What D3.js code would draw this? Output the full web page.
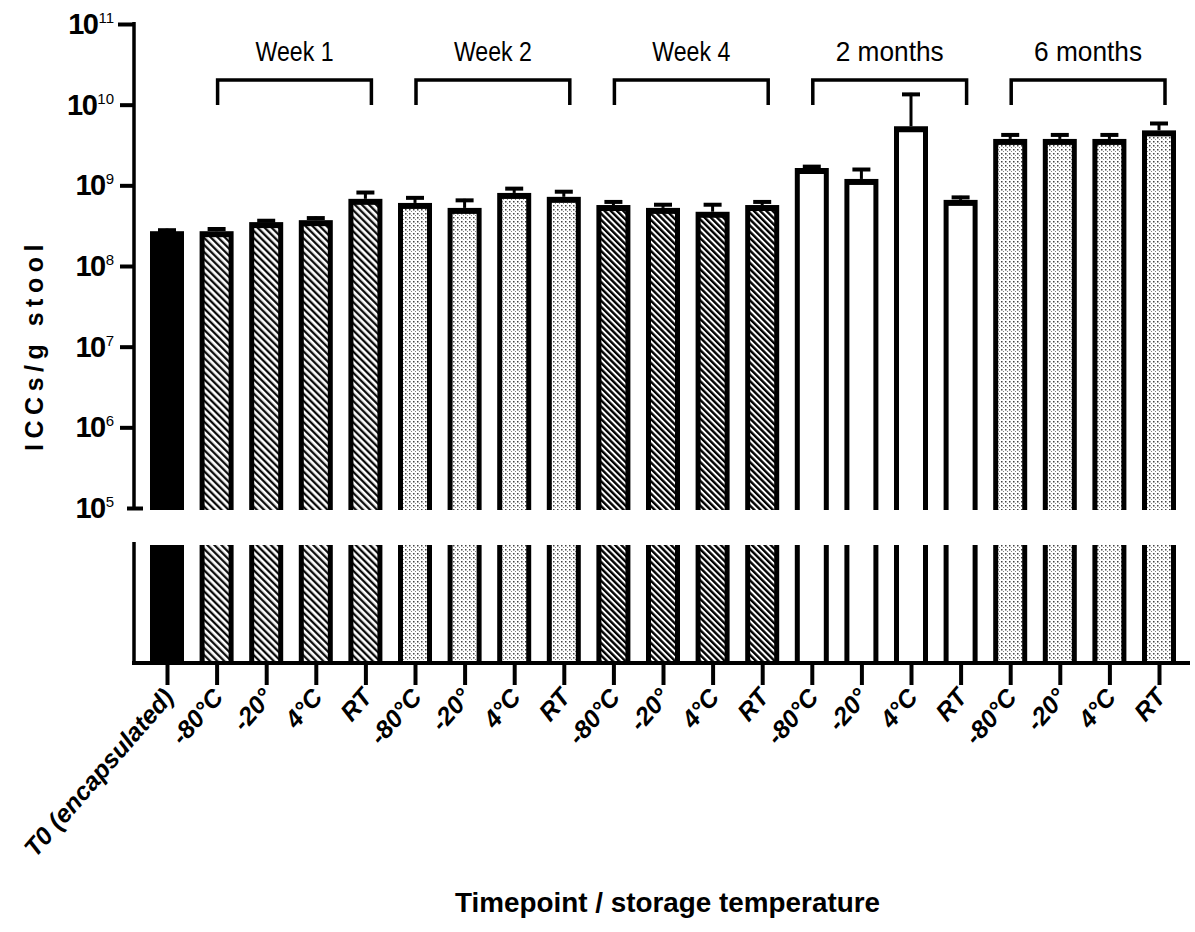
<!DOCTYPE html>
<html>
<head>
<meta charset="utf-8">
<script src="https://cdn.jsdelivr.net/npm/d3@7/dist/d3.min.js"></script>
<style>
  html, body { margin: 0; padding: 0; background: #fff; }
  svg { display: block; }
  text { font-family: "Liberation Sans", Arial, sans-serif; fill: #000; }
</style>
</head>
<body>
<svg id="chart" width="1195" height="932"></svg>
<script>
// ---------- data ----------
const categories = ["T0 (encapsulated)",
  "-80°C", "-20°", "4°C", "RT",
  "-80°C", "-20°", "4°C", "RT",
  "-80°C", "-20°", "4°C", "RT",
  "-80°C", "-20°", "4°C", "RT",
  "-80°C", "-20°", "4°C", "RT"];
const groupNames = ["Week 1", "Week 2", "Week 4", "2 months", "6 months"];
const groupStart = [1, 5, 9, 13, 17];
const groupEnd = [4, 8, 12, 16, 20];
const values = [2.7e8,
  2.7e8, 3.5e8, 3.7e8, 6.8e8,
  6.05e8, 5.25e8, 8.05e8, 7.2e8,
  5.7e8, 5.25e8, 4.7e8, 5.7e8,
  1.64e9, 1.2e9, 5.4e9, 6.6e8,
  3.76e9, 3.76e9, 3.76e9, 4.8e9];
const errorTop = [2.9e8,
  3.0e8, 3.8e8, 4.1e8, 8.5e8,
  7.3e8, 6.8e8, 9.5e8, 8.7e8,
  6.5e8, 6.0e8, 6.0e8, 6.5e8,
  1.78e9, 1.64e9, 1.4e10, 7.4e8,
  4.4e9, 4.4e9, 4.4e9, 6.1e9];
const fills = ["solid",
  "hatch1", "hatch1", "hatch1", "hatch1",
  "dots", "dots", "dots", "dots",
  "hatch2", "hatch2", "hatch2", "hatch2",
  "white", "white", "white", "white",
  "dots", "dots", "dots", "dots"];
const yTickExps = [5, 6, 7, 8, 9, 10, 11];

// ---------- layout ----------
const svg = d3.select("#chart");
const axisX = 134;
const upperTop = 24, upperBottom = 508;
const lowerTop = 545, lowerBottom = 662;
const barW = 34;

const x = d3.scalePoint().domain(d3.range(categories.length)).range([167, 1159]);
const y = d3.scaleLog().domain([1e5, 1e11]).range([upperBottom, upperTop]);

// ---------- patterns ----------
const defs = svg.append("defs");
const h1 = defs.append("pattern").attr("id", "hatch1").attr("patternUnits", "userSpaceOnUse")
  .attr("width", 5).attr("height", 5).attr("patternTransform", "rotate(-45)");
h1.append("rect").attr("width", 5).attr("height", 5).attr("fill", "#fff");
h1.append("line").attr("x1", 1.2).attr("y1", 0).attr("x2", 1.2).attr("y2", 5)
  .attr("stroke", "#000").attr("stroke-width", 2.2);
const h2 = defs.append("pattern").attr("id", "hatch2").attr("patternUnits", "userSpaceOnUse")
  .attr("width", 4.4).attr("height", 4.4).attr("patternTransform", "rotate(-45)");
h2.append("rect").attr("width", 4.4).attr("height", 4.4).attr("fill", "#fff");
h2.append("line").attr("x1", 1.2).attr("y1", 0).attr("x2", 1.2).attr("y2", 4.4)
  .attr("stroke", "#000").attr("stroke-width", 2.4);
const dp = defs.append("pattern").attr("id", "dots").attr("patternUnits", "userSpaceOnUse")
  .attr("width", 4).attr("height", 4);
dp.append("rect").attr("width", 4).attr("height", 4).attr("fill", "#fff");
dp.append("rect").attr("x", 1).attr("y", 1).attr("width", 1.5).attr("height", 1.5).attr("fill", "#444");
dp.append("rect").attr("x", 3).attr("y", 3).attr("width", 1.2).attr("height", 1.2).attr("fill", "#888");

function fillOf(f) {
  if (f === "solid") return "#000";
  if (f === "white") return "#fff";
  return "url(#" + f + ")";
}

// ---------- bars ----------
const idx = d3.range(categories.length);
const bw = 5, bt = 6;
const gBars = svg.append("g");
idx.forEach(i => {
  const cx = x(i), top = y(values[i]);
  gBars.append("rect").attr("x", cx - barW / 2).attr("y", top).attr("width", barW)
    .attr("height", upperBottom + 2 - top).attr("fill", "#000");
  if (fills[i] !== "solid") {
    gBars.append("rect").attr("x", cx - barW / 2 + bw).attr("y", top + bt)
      .attr("width", barW - 2 * bw).attr("height", upperBottom + 2 - top - bt)
      .attr("fill", fillOf(fills[i]));
  }
  gBars.append("rect").attr("x", cx - barW / 2).attr("y", lowerTop).attr("width", barW)
    .attr("height", lowerBottom - lowerTop).attr("fill", "#000");
  if (fills[i] !== "solid") {
    gBars.append("rect").attr("x", cx - barW / 2 + bw).attr("y", lowerTop)
      .attr("width", barW - 2 * bw).attr("height", lowerBottom - lowerTop)
      .attr("fill", fillOf(fills[i]));
  }
  const et = y(errorTop[i]);
  gBars.append("line").attr("x1", cx).attr("x2", cx).attr("y1", top).attr("y2", et)
    .attr("stroke", "#000").attr("stroke-width", 3);
  gBars.append("line").attr("x1", cx - 9).attr("x2", cx + 9).attr("y1", et + 1.5).attr("y2", et + 1.5)
    .attr("stroke", "#000").attr("stroke-width", 4);
});

// ---------- y axis ----------
const yAxis = d3.axisLeft(y).tickValues(yTickExps.map(e => Math.pow(10, e)))
  .tickSize(14).tickFormat("");
const gy = svg.append("g").attr("transform", `translate(${axisX},0)`).call(yAxis);
gy.select(".domain").remove();
gy.selectAll(".tick line").attr("stroke", "#000").attr("stroke-width", 4);
gy.selectAll(".tick").filter(d => d === 1e5).select("line").attr("x1", 9).attr("x2", -7);
gy.selectAll(".tick").filter(d => d === 1e11).select("line").attr("x2", -16);
svg.append("line").attr("x1", axisX).attr("x2", axisX).attr("y1", upperTop - 2).attr("y2", upperBottom + 2)
  .attr("stroke", "#000").attr("stroke-width", 3.5);
svg.append("line").attr("x1", axisX).attr("x2", axisX).attr("y1", lowerTop - 3).attr("y2", lowerBottom)
  .attr("stroke", "#000").attr("stroke-width", 3.5);

yTickExps.forEach(e => {
  const ty = y(Math.pow(10, e));
  const sup = svg.append("text").attr("x", 114).attr("y", ty - 1)
    .attr("text-anchor", "end")
    .style("font-size", "15px")
    .text(String(e));
  const sw = sup.node().getComputedTextLength();
  svg.append("text").attr("x", 114 - sw - 1).attr("y", ty + 10)
    .attr("text-anchor", "end")
    .style("font-weight", "bold").style("font-size", "29px")
    .style("letter-spacing", "-1.5px")
    .text("10");
});

svg.append("text").attr("transform", `translate(43,345) rotate(-90)`)
  .attr("text-anchor", "middle")
  .style("font-weight", "bold").style("font-size", "25px").style("letter-spacing", "5.5px")
  .text("ICCs/g stool");

// ---------- x axis ----------
svg.append("line").attr("x1", axisX - 2).attr("x2", 1190).attr("y1", lowerBottom + 1).attr("y2", lowerBottom + 1)
  .attr("stroke", "#000").attr("stroke-width", 4);
const xAxis = d3.axisBottom(x).tickSize(21).tickFormat("");
const gx = svg.append("g").attr("transform", `translate(0,${lowerBottom + 2})`).call(xAxis);
gx.select(".domain").remove();
gx.selectAll(".tick line").attr("stroke", "#000").attr("stroke-width", 4);

idx.forEach(i => {
  svg.append("text")
    .attr("transform", `translate(${x(i) + 8},${698}) rotate(-49)`)
    .attr("text-anchor", "end")
    .style("font-weight", "bold").style("font-style", "italic").style("font-size", "25px")
    .text(categories[i]);
});

svg.append("text").attr("x", 455).attr("y", 912)
  .attr("textLength", 425).attr("lengthAdjust", "spacingAndGlyphs")
  .style("font-weight", "bold").style("font-size", "28px")
  .text("Timepoint / storage temperature");

// ---------- group brackets ----------
groupNames.forEach((g, k) => {
  const x1 = x(groupStart[k]) + 1, x2 = x(groupEnd[k]) + 6;
  svg.append("path")
    .attr("d", `M${x1},105 L${x1},80 L${x2},80 L${x2},105`)
    .attr("fill", "none").attr("stroke", "#000").attr("stroke-width", 3.5);
  const w = { "Week 1": 78, "Week 2": 78, "Week 4": 78, "2 months": 108, "6 months": 108 }[g];
  svg.append("text").attr("x", (x1 + x2) / 2 - w / 2).attr("y", 61)
    .attr("textLength", w).attr("lengthAdjust", "spacingAndGlyphs")
    .style("font-size", "28px")
    .text(g);
});
</script>
</body>
</html>
